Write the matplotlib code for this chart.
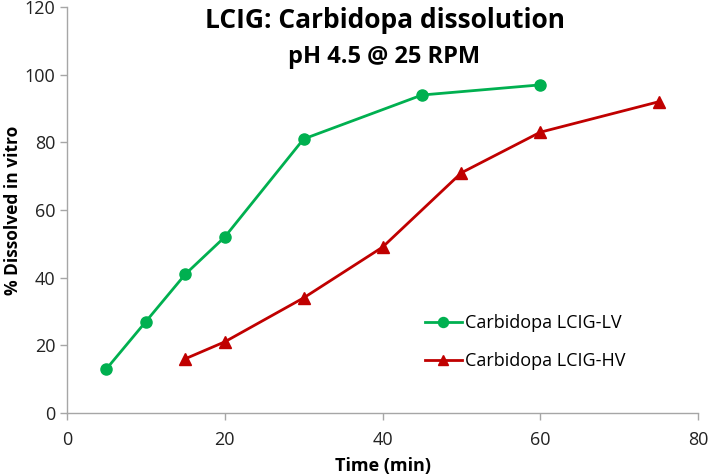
import matplotlib
matplotlib.use("Agg")
import matplotlib.pyplot as plt

time_lv = [5, 10, 15, 20, 30, 45, 60]
diss_lv = [13, 27, 41, 52, 81, 94, 97]
time_hv = [15, 20, 30, 40, 50, 60, 75]
diss_hv = [16, 21, 34, 49, 71, 83, 92]
label_lv = "Carbidopa LCIG-LV"
label_hv = "Carbidopa LCIG-HV"
x_ticks = [0, 20, 40, 60, 80]
y_ticks = [0, 20, 40, 60, 80, 100, 120]

plt.rcParams['font.family'] = ['Open Sans', 'DejaVu Sans']

fig = plt.figure(figsize=(7.09, 4.74), dpi=100)
ax = fig.add_axes([0.0945, 0.129, 0.89, 0.856])

ax.plot(time_lv, diss_lv, color='#00B050', lw=2, marker='o', ms=8, label=label_lv)
ax.plot(time_hv, diss_hv, color='#C00000', lw=2, marker='^', ms=8, label=label_hv)

ax.set_xlim(0, 80)
ax.set_ylim(0, 120)
ax.set_xticks(x_ticks)
ax.set_yticks(y_ticks)
for s in ['top', 'right']:
    ax.spines[s].set_visible(False)
for s in ['left', 'bottom']:
    ax.spines[s].set_color('#A6A6A6')
    ax.spines[s].set_linewidth(1)
ax.tick_params(axis='both', colors='#A6A6A6', labelcolor='#222222', labelsize=13, length=5, width=1)
ax.tick_params(axis='x', pad=8)

ax.set_xlabel("Time (min)", fontsize=13, fontweight='bold', labelpad=6)
ax.set_ylabel("% Dissolved in vitro", fontsize=12.5, fontweight='bold', labelpad=2)

fig.text(0.543, 1 - 28/474, "LCIG: Carbidopa dissolution", ha='center', va='baseline', fontsize=19, fontweight='bold')
fig.text(0.542, 1 - 63/474, "pH 4.5 @ 25 RPM", ha='center', va='baseline', fontsize=17, fontweight='bold')

ax.legend(loc='center left', bbox_to_anchor=(0.567, 0.174), frameon=False, fontsize=13,
          borderpad=0, borderaxespad=0,
          handlelength=2.05, handletextpad=0.2, labelspacing=1.1, markerscale=0.9)

fig.savefig("out.png", dpi=100)
